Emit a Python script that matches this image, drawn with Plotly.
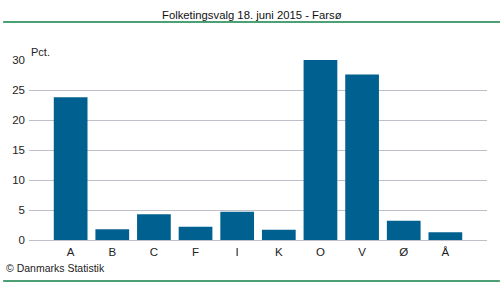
import plotly.graph_objects as go

categories = ["A", "B", "C", "F", "I", "K", "O", "V", "Ø", "Å"]
values = [23.8, 1.8, 4.3, 2.2, 4.7, 1.7, 30.0, 27.6, 3.2, 1.3]
y_ticks = [0, 5, 10, 15, 20, 25, 30]

title_text = "Folketingsvalg 18. juni 2015 - Farsø"
unit_text = "Pct."
source_text = "© Danmarks Statistik"

W, H = 500, 282
L, R, T, B = 26, 13, 60, 42
pw, ph = W - L - R, H - T - B

def px(x):
    return (x - L) / pw

def py(y):
    return (H - B - y) / ph

font = "Liberation Sans, Arial, sans-serif"
grid = "#bfbfca"
green = "#0f8244"

fig = go.Figure(go.Bar(x=categories, y=values, marker_color="#006190",
                       marker_line_width=0, width=0.81))

fig.update_layout(
    width=W, height=H, margin=dict(l=L, r=R, t=T, b=B),
    paper_bgcolor="white", plot_bgcolor="white", showlegend=False,
    font=dict(family=font, size=11.5, color="#222222"),
    xaxis=dict(type="category", range=[-1, 10], showgrid=False, showline=True,
               linecolor=grid, linewidth=1, ticks="", ticklabelstandoff=1,
               tickfont=dict(size=11.5)),
    yaxis=dict(range=[0, 30], tickvals=y_ticks, showgrid=True, gridcolor=grid,
               gridwidth=1, zeroline=False, showline=False, ticks="",
               ticklabelstandoff=3, tickfont=dict(size=11.5)),
    bargap=0.19,
)

fig.add_shape(type="line", xref="paper", yref="paper", x0=px(0), x1=px(W),
              y0=py(22), y1=py(22), line=dict(color=green, width=1.5))
fig.add_shape(type="line", xref="paper", yref="paper", x0=px(0), x1=px(W),
              y0=py(281), y1=py(281), line=dict(color=green, width=1.5))

fig.add_annotation(text=title_text, xref="paper", yref="paper", x=px(250), y=py(15),
                   xanchor="center", yanchor="middle", showarrow=False,
                   font=dict(size=11.3, color="#111111"))
fig.add_annotation(text=unit_text, xref="paper", yref="paper", x=px(26), y=py(52),
                   xanchor="left", yanchor="middle", showarrow=False,
                   font=dict(size=11, color="#222222"))
fig.add_annotation(text=source_text, xref="paper", yref="paper", x=px(1), y=py(268),
                   xanchor="left", yanchor="middle", showarrow=False,
                   font=dict(size=10.5, color="#222222"))

fig.write_html("out.html")
